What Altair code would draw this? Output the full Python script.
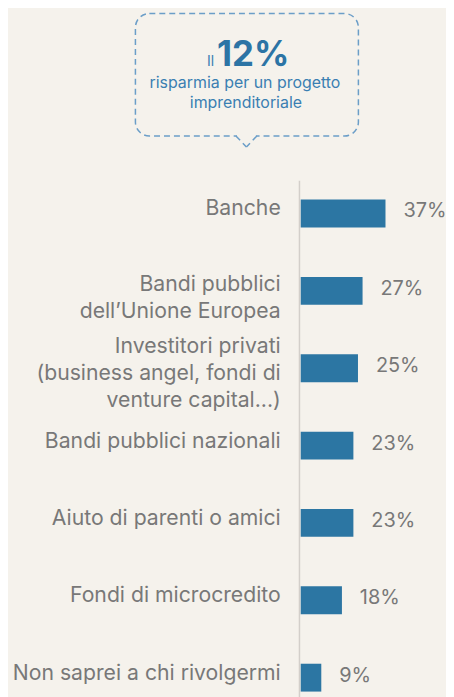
import altair as alt
import pandas as pd

# ---- data ----
categories = [
    "Banche",
    "Bandi pubblici\ndell\u2019Unione Europea",
    "Investitori privati\n(business  angel, fondi di\nventure capital...)",
    "Bandi pubblici nazionali",
    "Aiuto di parenti o amici",
    "Fondi di microcredito",
    "Non saprei a chi rivolgermi",
]
values = [37, 27, 25, 23, 23, 18, 9]
value_labels = ["37%", "27%", "25%", "23%", "23%", "18%", "9%"]

callout_prefix = "Il"
callout_big = "12%"
callout_line1 = "risparmia per un progetto"
callout_line2 = "imprenditoriale"

BG = "#f5f2ec"
BAR = "#2c76a3"
GRAY = "#787878"
BLUE = "#3a7fb2"
DASH = "#6b9ec8"
FONT = "Inter"

df = pd.DataFrame({
    "cat": categories,
    "val": values,
    "lab": value_labels,
    "nlines": [c.count("\n") + 1 for c in categories],
    "zero": [0] * len(categories),
})

xs = alt.Scale(domain=[0, 66], range=[294, 446], nice=False, zero=True)
ys = alt.Scale(domain=categories, range=[166, 710], paddingInner=0.64, paddingOuter=0.32)

base = alt.Chart(df)

bars = base.mark_bar(color=BAR).encode(
    x=alt.X("val:Q", scale=xs, axis=None),
    y=alt.Y("cat:N", scale=ys, axis=None),
)

vals = base.mark_text(align="left", baseline="alphabetic", dx=18, dy=4,
                      font=FONT, fontSize=20, color=GRAY).encode(
    x=alt.X("val:Q"),
    y=alt.Y("cat:N"),
    text="lab:N",
)

def cat_layer(flt, dy):
    return base.transform_filter(flt).mark_text(
        align="right", baseline="alphabetic", dx=-20, dy=dy, lineBreak="\n",
        lineHeight=27, font=FONT, fontSize=21.3, color=GRAY).encode(
        x=alt.X("zero:Q"),
        y=alt.Y("cat:N"),
        text="cat:N",
    )

cats1 = cat_layer("datum.nlines == 1", 2)
cats2 = cat_layer("datum.nlines == 2", 0)
cats3 = cat_layer("datum.nlines == 3", -15)

axis_line = base.transform_filter("datum.nlines == 1 && datum.val == 37").mark_rule(
    color="#d3cfca", strokeWidth=1.5, xOffset=-1.2).encode(
    x=alt.X("zero:Q"), y=alt.value(172), y2=alt.value(700)
)

one = alt.Chart(pd.DataFrame({"k": [0]}))

box = one.mark_rect(fill=BG, stroke=DASH, strokeWidth=1.5, strokeDash=[6, 4],
                    cornerRadius=14).encode(
    x=alt.value(128), x2=alt.value(352), y=alt.value(4), y2=alt.value(127)
)
gap = one.mark_rule(color=BG, strokeWidth=4).encode(
    x=alt.value(230), x2=alt.value(249), y=alt.value(127), y2=alt.value(127)
)
ptr_l = one.mark_rule(color=DASH, strokeWidth=1.5, strokeDash=[6, 4]).encode(
    x=alt.value(229), x2=alt.value(239.5), y=alt.value(127), y2=alt.value(138)
)
ptr_r = one.mark_rule(color=DASH, strokeWidth=1.5, strokeDash=[6, 4]).encode(
    x=alt.value(250), x2=alt.value(239.5), y=alt.value(127), y2=alt.value(138)
)

t_prefix = one.mark_text(align="right", baseline="alphabetic", font=FONT, fontSize=14,
                         color=BLUE, text=callout_prefix).encode(
    x=alt.value(207), y=alt.value(57))
t_big = one.mark_text(align="left", baseline="alphabetic", font=FONT, fontSize=35,
                      fontWeight="bold", color="#2c74a5", text=callout_big).encode(
    x=alt.value(210), y=alt.value(57))
t_l1 = one.mark_text(align="center", baseline="alphabetic", font=FONT, fontSize=16,
                     color=BLUE, text=callout_line1).encode(
    x=alt.value(238), y=alt.value(79))
t_l2 = one.mark_text(align="center", baseline="alphabetic", font=FONT, fontSize=16,
                     color=BLUE, text=callout_line2).encode(
    x=alt.value(239), y=alt.value(99))

chart = alt.layer(
    bars, vals, cats1, cats2, cats3, axis_line,
    box, gap, ptr_l, ptr_r, t_prefix, t_big, t_l1, t_l2,
).properties(
    width=440, height=689, background=BG, padding=0,
    autosize=alt.AutoSizeParams(type="none"),
).configure_view(stroke=None)

chart.save("out.html", embed_options={"renderer": "svg", "actions": False})
